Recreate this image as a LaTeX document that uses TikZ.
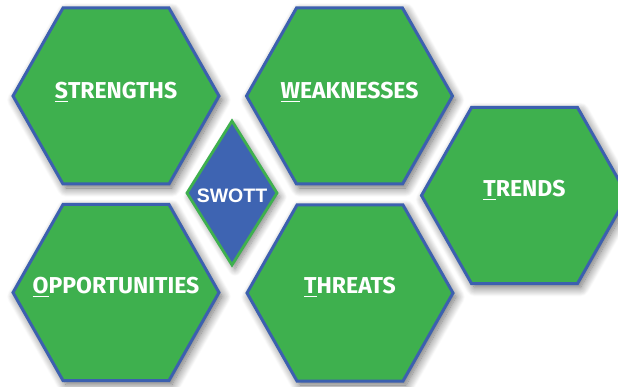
\documentclass[tikz,border=0pt]{standalone}
\usepackage{fontspec}
\setmainfont{Fira Sans}
\newfontfamily\swottfont{Liberation Sans}
\usetikzlibrary{shadows.blur}
\definecolor{hexgreen}{RGB}{62,176,78}
\definecolor{hexblue}{RGB}{60,96,175}
\definecolor{dmdblue}{RGB}{62,100,178}
\newcommand\firstul[1]{\setbox0\hbox{#1}\rlap{\rule[-3.5pt]{\wd0}{1.4pt}}\box0}
\newcommand\hexat[2]{\path[hexbox] (#1,#2) +(103,0) -- +(53,88) -- +(-53,88) -- +(-103,0) -- +(-53,-88) -- +(53,-88) -- cycle;}
\begin{document}
\begin{tikzpicture}[x=1pt,y=-1pt,
  hexbox/.style={fill=hexgreen,draw=hexblue,line width=3pt,line join=miter,
    blur shadow={shadow xshift=3pt,shadow yshift=-4pt,shadow blur radius=9pt,shadow blur steps=14,shadow opacity=60}},
  hexlabel/.style={text=white,font=\bfseries\fontsize{23}{23}\selectfont,inner sep=0pt},
  dmdbox/.style={fill=dmdblue,draw=hexgreen,line width=2.8pt,line join=miter,
    blur shadow={shadow xshift=3pt,shadow yshift=-4pt,shadow blur radius=7pt,shadow blur steps=10,shadow opacity=50}},
  dmdlabel/.style={text=white,font=\swottfont\bfseries\fontsize{19.5}{19.5}\selectfont,inner sep=0pt}]
\useasboundingbox (0,0) rectangle (618,387);
\clip (0,0) rectangle (618,387);
\hexat{116}{96}
\hexat{349.5}{96}
\hexat{524.5}{195.5}
\hexat{116}{292.5}
\hexat{350}{293}
\path[dmdbox] (232,121) -- (277,193) -- (232,265) -- (187,193) -- cycle;
\node[hexlabel] (s) at (116,92) {\firstul{S}TRENGTHS};
\node[hexlabel] (w) at (349.5,92) {\firstul{W}EAKNESSES};
\node[hexlabel] (t) at (524.5,190) {\firstul{T}RENDS};
\node[hexlabel] (o) at (116,287) {\firstul{O}PPORTUNITIES};
\node[hexlabel] (th) at (350,287) {\firstul{T}HREATS};
\node[dmdlabel] (c) at (232,196) {SWOTT};
\end{tikzpicture}
\end{document}
